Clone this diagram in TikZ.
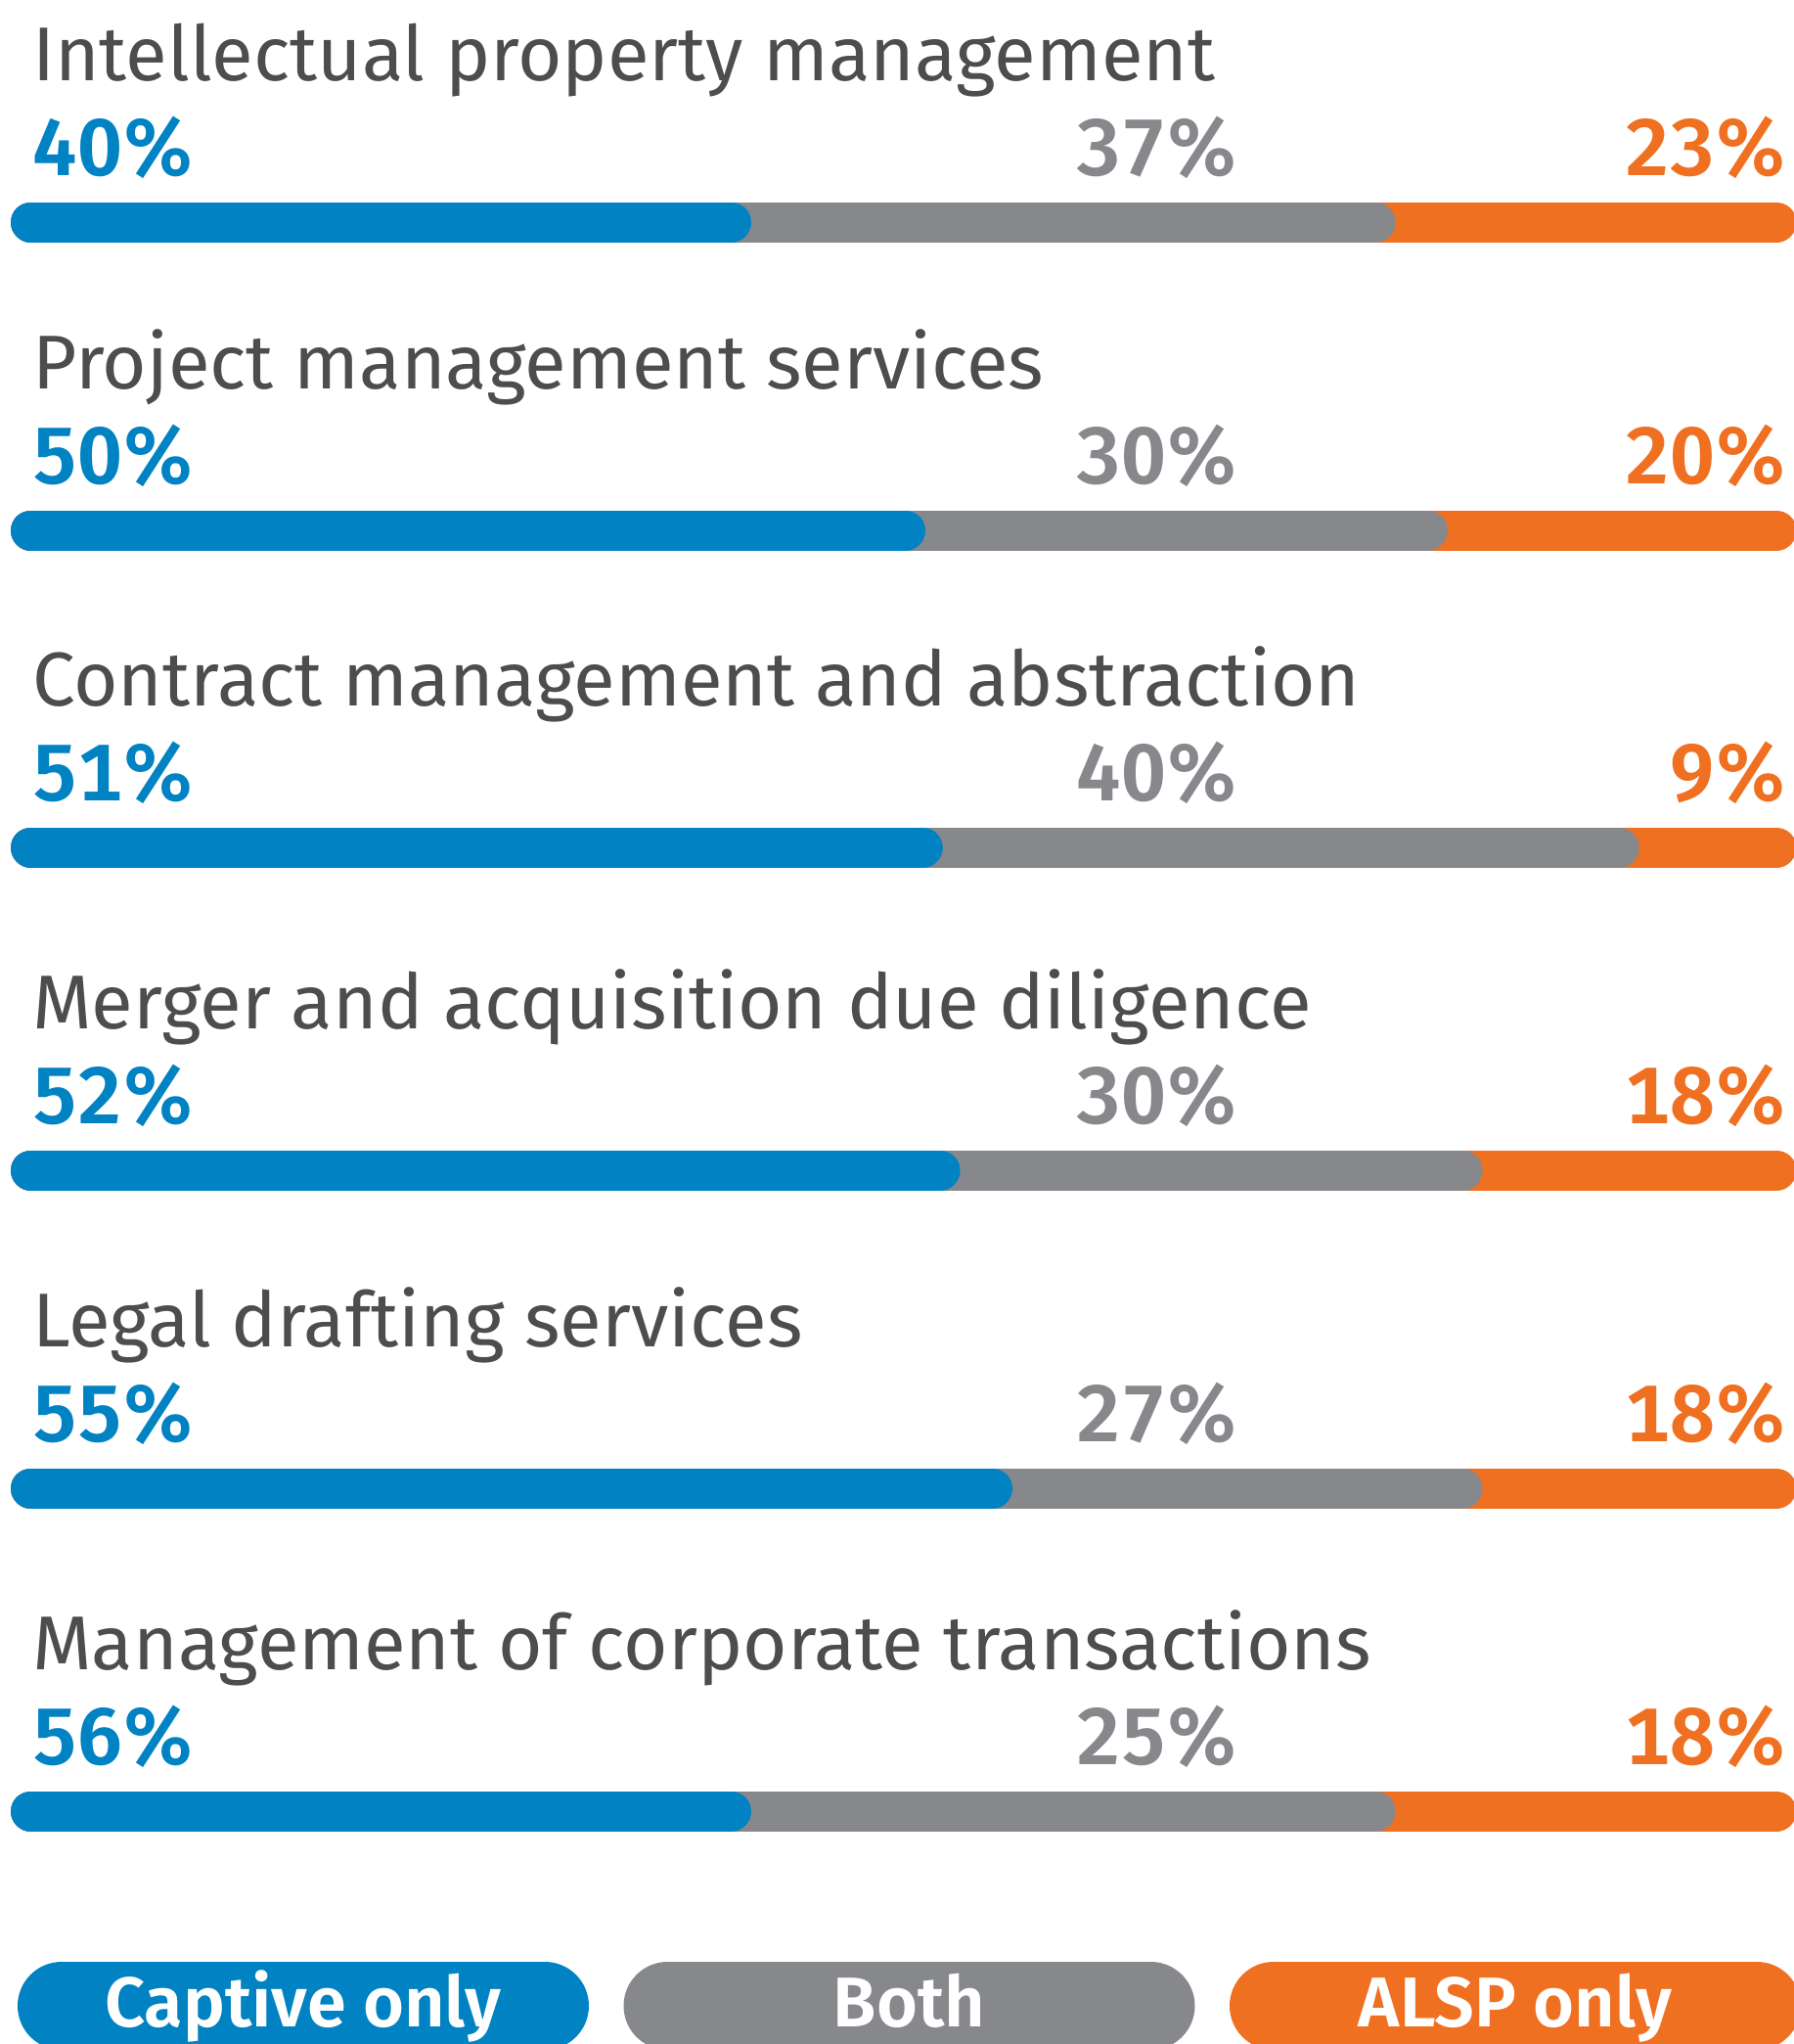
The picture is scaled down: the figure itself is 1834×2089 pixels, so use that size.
\documentclass[tikz,border=0pt]{standalone}
\usepackage{fontspec}
\setmainfont{Fira Sans}
\newfontfamily\numfont[Numbers=Monospaced]{Fira Sans SemiBold}
\definecolor{captiveblue}{RGB}{0,130,195}
\definecolor{bothgray}{RGB}{135,136,140}
\definecolor{alsporange}{RGB}{240,112,34}
\definecolor{ink}{RGB}{77,77,77}
\tikzset{
  bar/.style={line width=41pt, line cap=round},
  ttl/.style={inner sep=0pt, text=ink, font=\fontsize{78}{90}\selectfont},
  pct/.style={inner sep=0pt, font=\numfont\fontsize{82}{90}\selectfont},
  pill/.style={rounded corners=45pt, minimum width=584pt, minimum height=90pt,
    inner sep=0pt, text=white, text height=50pt, text depth=8pt,
    font=\numfont\fontsize{72}{80}\selectfont}
}

\begin{document}
\begin{tikzpicture}[x=1pt,y=-1pt]
\useasboundingbox (0,0) rectangle (1834,2089);
\clip (0,0) rectangle (1834,2089);
% one row per task: bar centre, title, bar ends, printed shares
\foreach \by/\ttl/\ca/\cb/\la/\lb/\lc [count=\i] in {
  227/{Intellectual property management}/40/77/40/37/23,
  542/{Project management services}/50/80/50/30/20,
  866/{Contract management and abstraction}/51/91/51/40/9,
  1196/{Merger and acquisition due diligence}/52/82/52/30/18,
  1521/{Legal drafting services}/55/82/55/27/18,
  1851/{Management of corporate transactions}/40/77/56/25/18}{
  \node[ttl, anchor=base west] (t\i) at (33,\by-145) {\ttl};
  \node[pct, text=captiveblue, anchor=base west] (pa\i) at (33,\by-48) {\la\%};
  \node[pct, text=bothgray, anchor=base] (pb\i) at (1183,\by-48) {\lb\%};
  \node[pct, text=alsporange, anchor=base east] (pc\i) at (1827,\by-48) {\lc\%};
  \draw[bar, alsporange] (31.5,\by) -- (1816,\by);
  \draw[bar, bothgray] (31.5,\by) -- ({35.5+17.8*\cb},\by);
  \draw[bar, captiveblue] (31.5,\by) -- ({35.5+17.8*\ca},\by);
}
% legend
\node[pill, fill=captiveblue] (captive) at (310,2050) {Captive only};
\node[pill, fill=bothgray] (both) at (929.5,2050) {Both};
\node[pill, fill=alsporange] (alsp) at (1549,2050) {ALSP only};
\end{tikzpicture}
\end{document}
